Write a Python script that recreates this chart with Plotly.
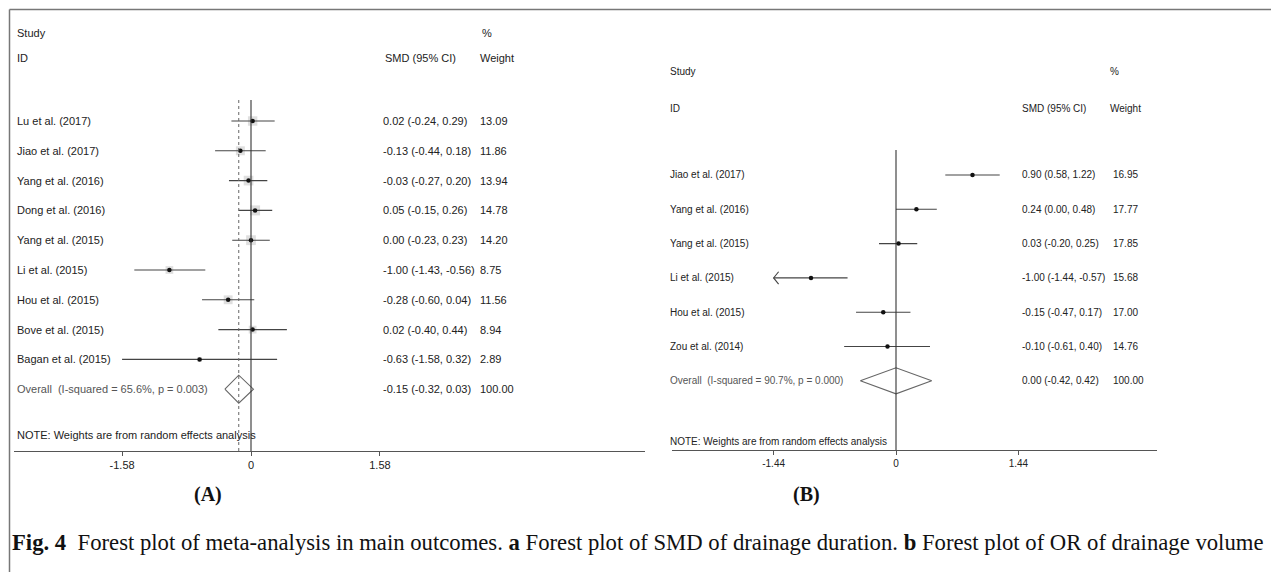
import plotly.graph_objects as go

# ---------------- data ----------------
a_studies = ["Lu et al. (2017)", "Jiao et al. (2017)", "Yang et al. (2016)", "Dong et al. (2016)",
             "Yang et al. (2015)", "Li et al. (2015)", "Hou et al. (2015)", "Bove et al. (2015)",
             "Bagan et al. (2015)"]
a_smd = [0.02, -0.13, -0.03, 0.05, 0.00, -1.00, -0.28, 0.02, -0.63]
a_lo = [-0.24, -0.44, -0.27, -0.15, -0.23, -1.43, -0.60, -0.40, -1.58]
a_hi = [0.29, 0.18, 0.20, 0.26, 0.23, -0.56, 0.04, 0.44, 0.32]
a_w = [13.09, 11.86, 13.94, 14.78, 14.20, 8.75, 11.56, 8.94, 2.89]
a_overall = [-0.15, -0.32, 0.03]
a_overall_label = "Overall  (I-squared = 65.6%, p = 0.003)"
a_ticks = [-1.58, 0, 1.58]
a_ticktext = ["-1.58", "0", "1.58"]

b_studies = ["Jiao et al. (2017)", "Yang et al. (2016)", "Yang et al. (2015)", "Li et al. (2015)",
             "Hou et al. (2015)", "Zou et al. (2014)"]
b_smd = [0.90, 0.24, 0.03, -1.00, -0.15, -0.10]
b_lo = [0.58, 0.00, -0.20, -1.44, -0.47, -0.61]
b_hi = [1.22, 0.48, 0.25, -0.57, 0.17, 0.40]
b_w = [16.95, 17.77, 17.85, 15.68, 17.00, 14.76]
b_overall = [0.00, -0.42, 0.42]
b_overall_label = "Overall  (I-squared = 90.7%, p = 0.000)"
b_ticks = [-1.44, 0, 1.44]
b_ticktext = ["-1.44", "0", "1.44"]
b_arrow_rows = ["Li et al. (2015)"]

# ---------------- layout helpers ----------------
OFF = 8                      # page body margin in the viewer
W, H = 1279 - OFF, 572 - OFF
def px(x):
    return (x - OFF) / W
def py(y):
    return 1 - (y - OFF) / H

SANS = "Liberation Sans, Arial, sans-serif"
SERIF = "Liberation Serif, Times New Roman, serif"
TXT = "#222"
PAD = 2  # annotation inner padding

# panel A geometry (pixels in the reference)
A_X0, A_X1, A_ZERO, A_PPU = 14, 645, 251, 81.6
A_TOP, A_AXIS, A_ROW1, A_STEP = 10, 451, 121, 29.8
# panel B geometry
B_X0, B_X1, B_ZERO, B_PPU = 672, 1157, 896, 85.0
B_TOP, B_AXIS, B_ROW1, B_STEP = 10, 450, 175, 34.3

def row_val(ypx, row1, step):
    return (ypx - row1) / step + 1

fig = go.Figure()

def forest(studies, smd, lo, hi, w, overall, xa, ya, boxes, dhalf):
    n = len(studies)
    rows = list(range(1, n + 1))
    xs, ys = [], []
    for r, l, h in zip(rows, lo, hi):
        xs += [l, h, None]
        ys += [r, r, None]
    if boxes:
        fig.add_trace(go.Scatter(x=smd, y=rows, mode="markers", xaxis=xa, yaxis=ya,
                                 marker=dict(symbol="square", color="#d2d2d2",
                                             size=[2.6 * (v ** 0.5) for v in w],
                                             line=dict(width=0)),
                                 hoverinfo="skip", showlegend=False))
    fig.add_trace(go.Scatter(x=xs, y=ys, mode="lines", xaxis=xa, yaxis=ya,
                             line=dict(color="#444", width=1.1),
                             hoverinfo="skip", showlegend=False))
    fig.add_trace(go.Scatter(x=smd, y=rows, mode="markers", xaxis=xa, yaxis=ya,
                             marker=dict(color="#111", size=4.5),
                             hoverinfo="skip", showlegend=False))
    est, dl, dh = overall
    ro = n + 1
    fig.add_trace(go.Scatter(x=[dl, est, dh, est, dl], y=[ro, ro - dhalf, ro, ro + dhalf, ro],
                             mode="lines", xaxis=xa, yaxis=ya,
                             line=dict(color="#666", width=1.1),
                             hoverinfo="skip", showlegend=False))
    return rows

a_rows = forest(a_studies, a_smd, a_lo, a_hi, a_w, a_overall, "x", "y", True, 0.47)
b_rows = forest(b_studies, b_smd, b_lo, b_hi, b_w, b_overall, "x2", "y2", False, 0.38)

for s in b_arrow_rows:
    i = b_studies.index(s)
    r = b_rows[i]
    tip = b_lo[i]
    d = 5 / B_PPU
    fig.add_trace(go.Scatter(x=[tip + d, tip, tip + d], y=[r - 0.18, r, r + 0.18], mode="lines",
                             xaxis="x2", yaxis="y2", line=dict(color="#444", width=1.1),
                             hoverinfo="skip", showlegend=False))

shapes = []
shapes.append(dict(type="line", xref="x", yref="y", x0=0, x1=0,
                   y0=row_val(100, A_ROW1, A_STEP), y1=row_val(A_AXIS, A_ROW1, A_STEP),
                   line=dict(color="#333", width=1.1)))
shapes.append(dict(type="line", xref="x", yref="y", x0=a_overall[0], x1=a_overall[0],
                   y0=row_val(100, A_ROW1, A_STEP), y1=row_val(A_AXIS, A_ROW1, A_STEP),
                   line=dict(color="#666", width=1, dash="3px,3px")))
shapes.append(dict(type="line", xref="x2", yref="y2", x0=0, x1=0,
                   y0=row_val(150, B_ROW1, B_STEP), y1=row_val(B_AXIS, B_ROW1, B_STEP),
                   line=dict(color="#333", width=1.1)))
# figure border (pixel positions in the reference)
shapes.append(dict(type="line", xref="paper", yref="paper", x0=px(9.5), x1=px(1276), y0=py(9.5), y1=py(9.5),
                   line=dict(color="#777", width=1.5)))
shapes.append(dict(type="line", xref="paper", yref="paper", x0=px(9.5), x1=px(9.5), y0=py(9.5), y1=0,
                   line=dict(color="#777", width=1.5)))
shapes.append(dict(type="line", xref="paper", yref="paper", x0=px(1276.5), x1=px(1276.5), y0=py(10), y1=0,
                   line=dict(color="#e2e2e2", width=1)))

ann = []
def label(x, y, text, size, yref="paper", color=TXT, font=SANS, xanchor="left"):
    xx = px(x - PAD) if xanchor == "left" else px(x)
    ann.append(dict(x=xx, y=y, xref="paper", yref=yref, text=text, showarrow=False,
                    xanchor=xanchor, yanchor="middle", font=dict(family=font, size=size, color=color)))

# Panel A text
FA = 11
label(17, py(33), "Study", FA)
label(17, py(58), "ID", FA)
label(482, py(33), "%", FA)
label(385, py(58), "SMD (95% CI)", FA)
label(480, py(58), "Weight", FA)
for r, s, e, l, h, w in zip(a_rows, a_studies, a_smd, a_lo, a_hi, a_w):
    label(17, r, s, FA, yref="y")
    label(383, r, f"{e:.2f} ({l:.2f}, {h:.2f})", FA, yref="y")
    label(480, r, f"{w:.2f}", FA, yref="y")
ro = len(a_rows) + 1
label(17, ro, a_overall_label, FA, yref="y", color="#555")
label(383, ro, f"{a_overall[0]:.2f} ({a_overall[1]:.2f}, {a_overall[2]:.2f})", FA, yref="y")
label(480, ro, "100.00", FA, yref="y")
label(17, py(435), "NOTE: Weights are from random effects analysis", FA)

# Panel B text
FB = 10
label(670, py(72), "Study", FB)
label(670, py(108), "ID", FB)
label(1110, py(72), "%", FB)
label(1022, py(108), "SMD (95% CI)", FB)
label(1110, py(108), "Weight", FB)
for r, s, e, l, h, w in zip(b_rows, b_studies, b_smd, b_lo, b_hi, b_w):
    label(670, r, s, FB, yref="y2")
    label(1022, r, f"{e:.2f} ({l:.2f}, {h:.2f})", FB, yref="y2")
    label(1113, r, f"{w:.2f}", FB, yref="y2")
ro = len(b_rows) + 1
label(670, ro, b_overall_label, FB, yref="y2", color="#555")
label(1022, ro, f"{b_overall[0]:.2f} ({b_overall[1]:.2f}, {b_overall[2]:.2f})", FB, yref="y2")
label(1113, ro, "100.00", FB, yref="y2")
label(670, py(442), "NOTE: Weights are from random effects analysis", FB)

# panel labels and caption
label(208, py(494), "<b>(A)</b>", 20, font=SERIF, color="#111", xanchor="center")
label(806, py(494), "<b>(B)</b>", 20, font=SERIF, color="#111", xanchor="center")
label(12, py(542),
      "<b>Fig. 4</b>  Forest plot of meta-analysis in main outcomes. <b>a</b> Forest plot of SMD of drainage "
      "duration. <b>b</b> Forest plot of OR of drainage volume", 22.7, font=SERIF, color="#111")

axis_common = dict(showgrid=False, zeroline=False, showline=True, linecolor="#555", linewidth=1.4,
                   ticks="outside", ticklen=4, tickcolor="#555", tickwidth=1,
                   tickfont=dict(family=SANS, size=11, color=TXT), fixedrange=True)
yaxis_common = dict(visible=False, showgrid=False, zeroline=False, fixedrange=True)

fig.update_layout(
    width=W, height=H, margin=dict(l=0, r=0, t=0, b=0),
    paper_bgcolor="white", plot_bgcolor="white", showlegend=False,
    xaxis=dict(domain=[px(A_X0), px(A_X1)],
               range=[(A_X0 - A_ZERO) / A_PPU, (A_X1 - A_ZERO) / A_PPU],
               tickvals=a_ticks, ticktext=a_ticktext, anchor="y", **axis_common),
    yaxis=dict(domain=[py(A_AXIS), py(A_TOP)],
               range=[row_val(A_AXIS, A_ROW1, A_STEP), row_val(A_TOP, A_ROW1, A_STEP)],
               anchor="x", **yaxis_common),
    xaxis2=dict(domain=[px(B_X0), px(B_X1)],
                range=[(B_X0 - B_ZERO) / B_PPU, (B_X1 - B_ZERO) / B_PPU],
                tickvals=b_ticks, ticktext=b_ticktext, anchor="y2",
                **{**axis_common, "tickfont": dict(family=SANS, size=10, color=TXT)}),
    yaxis2=dict(domain=[py(B_AXIS), py(B_TOP)],
                range=[row_val(B_AXIS, B_ROW1, B_STEP), row_val(B_TOP, B_ROW1, B_STEP)],
                anchor="x2", **yaxis_common),
    shapes=shapes, annotations=ann,
)

fig.write_html("out.html")
